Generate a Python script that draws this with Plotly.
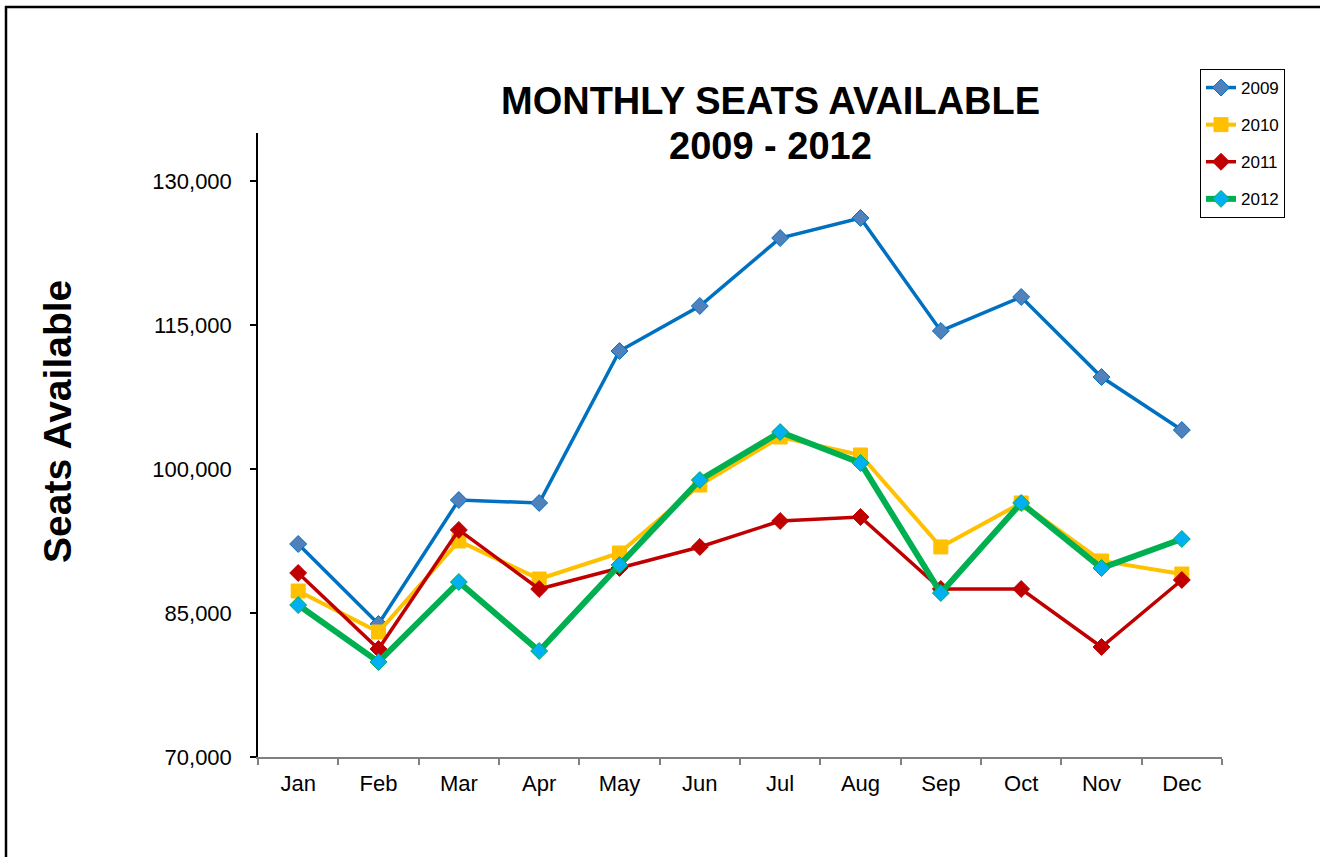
import plotly.graph_objects as go

months = ["Jan", "Feb", "Mar", "Apr", "May", "Jun", "Jul", "Aug", "Sep", "Oct", "Nov", "Dec"]
seats_2009 = [92190, 83850, 96770, 96460, 112290, 116980, 124060, 126150, 114380, 117920, 109580, 104060]
seats_2010 = [87290, 83020, 92500, 88540, 91250, 98330, 103330, 101460, 91880, 96460, 90420, 89060]
seats_2011 = [89170, 81250, 93650, 87500, 89690, 91880, 94580, 95000, 87500, 87500, 81460, 88440]
seats_2012 = [85830, 79900, 88230, 81040, 90000, 98850, 103850, 100630, 87080, 96460, 89690, 92710]

FONT = "Arial, Liberation Sans, sans-serif"

fig = go.Figure()
series = [
    ("2009", seats_2009, "#0070C0", 3.5, "diamond", 13, "#4F81BD", "#0070C0"),
    ("2010", seats_2010, "#FFC000", 4, "square", 14, "#FFC000", "#FFC000"),
    ("2011", seats_2011, "#C00000", 3.5, "diamond", 13, "#C00000", "#C00000"),
    ("2012", seats_2012, "#00B050", 6, "diamond", 13, "#00B0F0", "#00B050"),
]
for name, vals, lc, lw, sym, ms, mfill, mline in series:
    fig.add_trace(go.Scatter(
        x=months, y=vals, name=name, mode="lines+markers", legendgroup=name,
        line=dict(color=lc, width=lw),
        marker=dict(symbol=sym, size=ms, color=mfill, line=dict(color=mline, width=1)),
    ))

L, R, T, B = 258, 1222, 133, 757
W, H = 1320, 857
pw, ph = R - L, B - T

def px(x):
    return (x - L) / pw

def py(y):
    return (B - y) / ph

fig.update_layout(
    width=W, height=H,
    margin=dict(l=L, r=W - R, t=T, b=H - B, pad=0),
    paper_bgcolor="white", plot_bgcolor="white",
    font=dict(family=FONT, color="black"),
    showlegend=True,
    legend=dict(
        x=px(1200), y=py(69), xanchor="left", yanchor="top",
        bordercolor="black", borderwidth=1, bgcolor="white",
        font=dict(size=17, family=FONT), tracegroupgap=12,
    ),
    xaxis=dict(
        type="category", range=[-0.5, 11.5], showgrid=False,
        showline=True, linecolor="#808080", linewidth=1.5,
        ticks="outside", tickson="boundaries", ticklen=6, tickcolor="#808080", tickwidth=1.5,
        tickfont=dict(size=22, family=FONT), zeroline=False, ticklabelstandoff=6,
    ),
    yaxis=dict(
        range=[70000, 135000], tick0=70000, dtick=15000, tickformat=",",
        showgrid=False, showline=True, linecolor="black", linewidth=1.5,
        ticks="outside", ticklen=6, tickcolor="black", tickwidth=1.5,
        tickfont=dict(size=22, family=FONT), zeroline=False, ticklabelstandoff=14,
    ),
    annotations=[
        dict(text="<b>MONTHLY SEATS AVAILABLE</b>", x=px(770), y=py(101), xref="paper", yref="paper",
             xanchor="center", yanchor="middle", showarrow=False, font=dict(size=38, family=FONT)),
        dict(text="<b>2009 - 2012</b>", x=px(770), y=py(146), xref="paper", yref="paper",
             xanchor="center", yanchor="middle", showarrow=False, font=dict(size=38, family=FONT)),
        dict(text="<b>Seats Available</b>", x=px(57), y=py(422), xref="paper", yref="paper",
             xanchor="center", yanchor="middle", showarrow=False, textangle=-90,
             font=dict(size=39, family=FONT)),
    ],
    shapes=[
        dict(type="line", xref="paper", yref="paper",
             x0=px(5), y0=py(7), x1=px(1330), y1=py(7),
             line=dict(color="black", width=2.5), layer="below"),
        dict(type="line", xref="paper", yref="paper",
             x0=px(6), y0=py(6), x1=px(6), y1=py(870),
             line=dict(color="black", width=2.5), layer="below"),
    ],
)

fig.write_html(
    "out.html",
    config={"displayModeBar": False},
    post_script="document.documentElement.style.margin='0';document.body.style.margin='0';"
                "document.body.style.overflow='hidden';",
)
